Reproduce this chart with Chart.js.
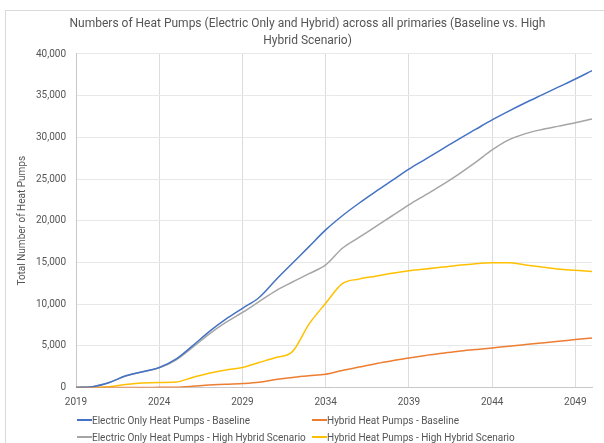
<!DOCTYPE html>
<html>
<head>
<meta charset="utf-8">
<title>Numbers of Heat Pumps</title>
<script src="https://cdn.jsdelivr.net/npm/chart.js@4/dist/chart.umd.min.js"></script>
<style>
    body { margin: 0; background: #fff; overflow: hidden; font-family: Roboto, sans-serif; }
    /* thin frame round the chart, like the sheet's chart box */
    #frame { position: absolute; left: 5px; top: 10px; width: 700px; height: 500px;
             border-left: 1px solid #d9d9d9; border-top: 1px solid #d9d9d9; }
    #wrap { position: absolute; left: 0; top: 0; width: 604px; height: 443px; }
    #legend { position: absolute; left: 77px; top: 412px; width: 520px;
              display: grid; grid-template-columns: 235px 280px; row-gap: 0; }
    .item { font-size: 10px; color: #555; line-height: 17px; white-space: nowrap; }
    .swatch { display: inline-block; width: 15px; height: 2px; vertical-align: middle; margin-top: -2px; }
</style>
</head>
<body>
<div id="frame"></div>
<div id="wrap"><canvas id="heatPumpChart"></canvas></div>
<div id="legend"></div>
<script>
// Years on the x axis and the ticks shown under it
const years = [2019, 2020, 2021, 2022, 2023, 2024, 2025, 2026, 2027, 2028, 2029, 2030, 2031, 2032, 2033, 2034,
               2035, 2036, 2037, 2038, 2039, 2040, 2041, 2042, 2043, 2044, 2045, 2046, 2047, 2048, 2049, 2050];
const xTicks = [2019, 2024, 2029, 2034, 2039, 2044, 2049];

// Series values
const electricBaseline = [0, 100, 600, 1400, 1900, 2400, 3400, 5000, 6700, 8200, 9500, 10800, 12900, 14900, 16900, 18900,
                          20600, 22100, 23500, 24850, 26200, 27400, 28600, 29800, 30950, 32100, 33150, 34150, 35100, 36050, 37000, 38000];
const hybridBaseline = [0, 0, 0, 0, 0, 20, 40, 150, 300, 380, 480, 640, 950, 1200, 1400, 1600,
                        2050, 2450, 2850, 3200, 3550, 3850, 4100, 4350, 4550, 4750, 4950, 5150, 5350, 5550, 5750, 5950];
const electricHigh = [0, 100, 600, 1400, 1900, 2350, 3300, 4800, 6400, 7800, 9000, 10300, 11600, 12650, 13650, 14700,
                      16700, 18000, 19300, 20600, 21900, 23100, 24300, 25600, 27000, 28500, 29700, 30450, 30950, 31350, 31750, 32200];
const hybridHigh = [0, 0, 100, 350, 530, 600, 650, 1200, 1700, 2100, 2400, 3000, 3600, 4300, 7600, 10100,
                    12450, 13000, 13350, 13700, 14000, 14200, 14450, 14650, 14850, 14950, 14950, 14700, 14450, 14200, 14050, 13900];

// Legend labels and colours, in the same order as the series
const seriesNames = ['Electric Only Heat Pumps - Baseline', 'Hybrid Heat Pumps - Baseline',
                     'Electric Only Heat Pumps - High Hybrid Scenario', 'Hybrid Heat Pumps - High Hybrid Scenario'];
const seriesValues = [electricBaseline, hybridBaseline, electricHigh, hybridHigh];
const seriesColours = ['#4472c4', '#ed7d31', '#a5a5a5', '#ffc000'];

const ctx = document.getElementById('heatPumpChart').getContext('2d');

// Turn each series into {x, y} points for the linear x axis
const datasets = seriesValues.map((values, i) => ({
    label: seriesNames[i],
    data: values.map((v, j) => ({ x: years[j], y: v })),
    borderColor: seriesColours[i],
    backgroundColor: seriesColours[i],
    borderWidth: 1.5,
    pointRadius: 0,
    cubicInterpolationMode: 'monotone'
}));

const chart = new Chart(ctx, {
    type: 'line',
    data: { datasets },
    options: {
        responsive: true,
        maintainAspectRatio: false,
        animation: false,
        layout: { padding: { left: 23, right: 12, top: 0, bottom: 35.5 } },
        plugins: {
            legend: { display: false },
            tooltip: { enabled: false },
            title: {
                display: true,
                text: ['Numbers of Heat Pumps (Electric Only and Hybrid) across all primaries (Baseline vs. High',
                       'Hybrid Scenario)'],
                color: '#555',
                font: { family: 'Roboto', size: 12, weight: 'normal', lineHeight: 1.4 },
                padding: { top: 16, bottom: 4.4 }
            }
        },
        scales: {
            x: {
                type: 'linear',
                min: 2019,
                max: 2050,
                // only every fifth year gets a tick, starting at 2019
                afterBuildTicks: scale => { scale.ticks = xTicks.map(v => ({ value: v })); },
                afterFit: scale => { scale.height = 20; },
                ticks: {
                    color: '#555',
                    font: { family: 'Roboto', size: 10 },
                    padding: 8.5,
                    maxRotation: 0,
                    autoSkip: false,
                    callback: v => String(v)
                },
                grid: { color: '#dcdcdc', drawTicks: false },
                border: { color: '#c8c8c8' }
            },
            y: {
                min: 0,
                max: 40000,
                afterFit: scale => { scale.width = 53; },
                ticks: {
                    stepSize: 5000,
                    color: '#555',
                    font: { family: 'Roboto', size: 10 },
                    padding: 10,
                    callback: v => v.toLocaleString('en-US')
                },
                grid: { color: '#e8e8e8', drawTicks: false },
                border: { color: '#c8c8c8' },
                title: {
                    display: true,
                    text: 'Total Number of Heat Pumps',
                    color: '#555',
                    font: { family: 'Roboto', size: 10 },
                    padding: { top: -7, bottom: 0 }
                }
            }
        }
    }
});

// Build the two-column legend under the chart
const legend = document.getElementById('legend');
chart.data.datasets.forEach(ds => {
    const item = document.createElement('div');
    item.className = 'item';
    item.innerHTML = '<span class="swatch" style="background:' + ds.borderColor + '"></span>' + ds.label;
    legend.appendChild(item);
});
</script>
</body>
</html>
